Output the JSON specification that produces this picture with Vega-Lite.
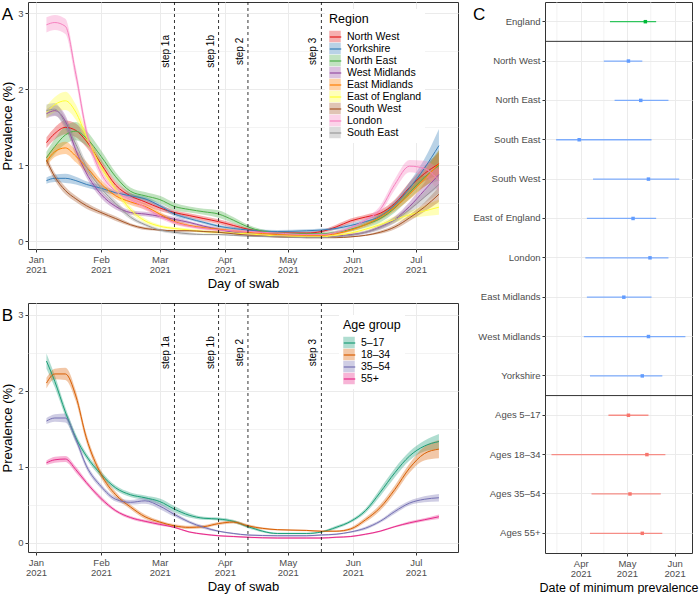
{
"$schema": "https://vega.github.io/schema/vega-lite/v6.json",
"background": "white",
"padding": {"left": 1, "top": 1, "right": 0, "bottom": 0},
"config": {
  "font": "Liberation Sans",
  "view": {"stroke": "#333333", "strokeWidth": 1},
  "axis": {"domain": false, "labelColor": "#4D4D4D", "labelFontSize": 9.5, "titleFontSize": 13, "titleFontWeight": "normal", "titleColor": "black", "tickColor": "#333333", "tickSize": 3, "gridColor": "#EBEBEB", "labelPadding": 2, "titlePadding": 3, "labelOverlap": false, "labelFlush": false},
  "legend": {"titleFontSize": 12.5, "titleFontWeight": "normal", "titleColor": "black", "labelFontSize": 10.5, "labelColor": "black", "padding": 4, "rowPadding": 0, "titlePadding": 5, "labelOffset": 5},
  "title": {"fontSize": 17, "fontWeight": "normal", "color": "black", "anchor": "start", "frame": "bounds", "baseline": "alphabetic"}
},
"datasets": {
"steps": [
{"step":"step 1a","d":"2021-03-08"},{"step":"step 1b","d":"2021-03-29"},{"step":"step 2","d":"2021-04-12"},{"step":"step 3","d":"2021-05-17"}
],
"seps": [{"cat":"England"},{"cat":"Yorkshire"}],
"cminor": [{"d":"2021-03-16T12:00:00Z"},{"d":"2021-04-16T00:00:00Z"},{"d":"2021-05-16T12:00:00Z"}],
"reg": [
{"g":"North West","d":"2021-01-06","v":1.30,"lo":1.23,"hi":1.37},
{"g":"North West","d":"2021-01-10","v":1.42,"lo":1.34,"hi":1.50},
{"g":"North West","d":"2021-01-15","v":1.50,"lo":1.41,"hi":1.59},
{"g":"North West","d":"2021-01-20","v":1.46,"lo":1.37,"hi":1.55},
{"g":"North West","d":"2021-01-25","v":1.32,"lo":1.24,"hi":1.40},
{"g":"North West","d":"2021-02-01","v":1.02,"lo":0.96,"hi":1.08},
{"g":"North West","d":"2021-02-08","v":0.74,"lo":0.69,"hi":0.79},
{"g":"North West","d":"2021-02-15","v":0.60,"lo":0.56,"hi":0.64},
{"g":"North West","d":"2021-02-22","v":0.52,"lo":0.48,"hi":0.56},
{"g":"North West","d":"2021-03-01","v":0.44,"lo":0.40,"hi":0.48},
{"g":"North West","d":"2021-03-08","v":0.38,"lo":0.35,"hi":0.41},
{"g":"North West","d":"2021-03-15","v":0.34,"lo":0.31,"hi":0.37},
{"g":"North West","d":"2021-03-22","v":0.30,"lo":0.27,"hi":0.33},
{"g":"North West","d":"2021-03-29","v":0.26,"lo":0.23,"hi":0.29},
{"g":"North West","d":"2021-04-05","v":0.21,"lo":0.18,"hi":0.24},
{"g":"North West","d":"2021-04-12","v":0.16,"lo":0.14,"hi":0.18},
{"g":"North West","d":"2021-04-26","v":0.11,"lo":0.09,"hi":0.13},
{"g":"North West","d":"2021-05-10","v":0.11,"lo":0.09,"hi":0.13},
{"g":"North West","d":"2021-05-17","v":0.13,"lo":0.11,"hi":0.15},
{"g":"North West","d":"2021-05-24","v":0.19,"lo":0.16,"hi":0.22},
{"g":"North West","d":"2021-05-31","v":0.27,"lo":0.24,"hi":0.30},
{"g":"North West","d":"2021-06-07","v":0.32,"lo":0.29,"hi":0.35},
{"g":"North West","d":"2021-06-14","v":0.37,"lo":0.33,"hi":0.41},
{"g":"North West","d":"2021-06-21","v":0.50,"lo":0.45,"hi":0.55},
{"g":"North West","d":"2021-06-28","v":0.71,"lo":0.64,"hi":0.78},
{"g":"North West","d":"2021-07-05","v":0.89,"lo":0.79,"hi":0.99},
{"g":"North West","d":"2021-07-12","v":1.02,"lo":0.87,"hi":1.17},
{"g":"Yorkshire","d":"2021-01-06","v":0.80,"lo":0.76,"hi":0.84},
{"g":"Yorkshire","d":"2021-01-10","v":0.83,"lo":0.78,"hi":0.88},
{"g":"Yorkshire","d":"2021-01-15","v":0.83,"lo":0.77,"hi":0.89},
{"g":"Yorkshire","d":"2021-01-20","v":0.80,"lo":0.75,"hi":0.85},
{"g":"Yorkshire","d":"2021-01-25","v":0.75,"lo":0.71,"hi":0.79},
{"g":"Yorkshire","d":"2021-02-01","v":0.70,"lo":0.66,"hi":0.74},
{"g":"Yorkshire","d":"2021-02-08","v":0.64,"lo":0.61,"hi":0.67},
{"g":"Yorkshire","d":"2021-02-15","v":0.60,"lo":0.57,"hi":0.63},
{"g":"Yorkshire","d":"2021-02-22","v":0.56,"lo":0.53,"hi":0.59},
{"g":"Yorkshire","d":"2021-03-01","v":0.47,"lo":0.44,"hi":0.50},
{"g":"Yorkshire","d":"2021-03-08","v":0.36,"lo":0.33,"hi":0.39},
{"g":"Yorkshire","d":"2021-03-15","v":0.30,"lo":0.28,"hi":0.32},
{"g":"Yorkshire","d":"2021-03-22","v":0.25,"lo":0.23,"hi":0.27},
{"g":"Yorkshire","d":"2021-03-29","v":0.20,"lo":0.18,"hi":0.22},
{"g":"Yorkshire","d":"2021-04-05","v":0.17,"lo":0.15,"hi":0.19},
{"g":"Yorkshire","d":"2021-04-12","v":0.15,"lo":0.13,"hi":0.17},
{"g":"Yorkshire","d":"2021-04-26","v":0.13,"lo":0.11,"hi":0.15},
{"g":"Yorkshire","d":"2021-05-10","v":0.14,"lo":0.12,"hi":0.16},
{"g":"Yorkshire","d":"2021-05-17","v":0.15,"lo":0.13,"hi":0.17},
{"g":"Yorkshire","d":"2021-05-24","v":0.17,"lo":0.15,"hi":0.19},
{"g":"Yorkshire","d":"2021-05-31","v":0.21,"lo":0.18,"hi":0.24},
{"g":"Yorkshire","d":"2021-06-07","v":0.26,"lo":0.23,"hi":0.29},
{"g":"Yorkshire","d":"2021-06-14","v":0.33,"lo":0.29,"hi":0.37},
{"g":"Yorkshire","d":"2021-06-21","v":0.48,"lo":0.43,"hi":0.53},
{"g":"Yorkshire","d":"2021-06-28","v":0.70,"lo":0.62,"hi":0.78},
{"g":"Yorkshire","d":"2021-07-05","v":0.96,"lo":0.84,"hi":1.08},
{"g":"Yorkshire","d":"2021-07-12","v":1.26,"lo":1.04,"hi":1.48},
{"g":"North East","d":"2021-01-06","v":1.10,"lo":1.02,"hi":1.18},
{"g":"North East","d":"2021-01-10","v":1.25,"lo":1.15,"hi":1.35},
{"g":"North East","d":"2021-01-15","v":1.40,"lo":1.28,"hi":1.52},
{"g":"North East","d":"2021-01-20","v":1.45,"lo":1.33,"hi":1.57},
{"g":"North East","d":"2021-01-25","v":1.36,"lo":1.26,"hi":1.46},
{"g":"North East","d":"2021-02-01","v":1.12,"lo":1.04,"hi":1.20},
{"g":"North East","d":"2021-02-08","v":0.85,"lo":0.79,"hi":0.91},
{"g":"North East","d":"2021-02-15","v":0.66,"lo":0.61,"hi":0.71},
{"g":"North East","d":"2021-02-22","v":0.60,"lo":0.55,"hi":0.65},
{"g":"North East","d":"2021-03-01","v":0.55,"lo":0.50,"hi":0.60},
{"g":"North East","d":"2021-03-08","v":0.46,"lo":0.41,"hi":0.51},
{"g":"North East","d":"2021-03-15","v":0.42,"lo":0.38,"hi":0.46},
{"g":"North East","d":"2021-03-22","v":0.39,"lo":0.35,"hi":0.43},
{"g":"North East","d":"2021-03-29","v":0.36,"lo":0.31,"hi":0.41},
{"g":"North East","d":"2021-04-05","v":0.28,"lo":0.24,"hi":0.32},
{"g":"North East","d":"2021-04-12","v":0.19,"lo":0.16,"hi":0.22},
{"g":"North East","d":"2021-04-26","v":0.11,"lo":0.09,"hi":0.13},
{"g":"North East","d":"2021-05-10","v":0.10,"lo":0.08,"hi":0.12},
{"g":"North East","d":"2021-05-17","v":0.10,"lo":0.08,"hi":0.12},
{"g":"North East","d":"2021-05-24","v":0.12,"lo":0.10,"hi":0.14},
{"g":"North East","d":"2021-05-31","v":0.16,"lo":0.13,"hi":0.19},
{"g":"North East","d":"2021-06-07","v":0.22,"lo":0.18,"hi":0.26},
{"g":"North East","d":"2021-06-14","v":0.30,"lo":0.25,"hi":0.35},
{"g":"North East","d":"2021-06-21","v":0.44,"lo":0.38,"hi":0.50},
{"g":"North East","d":"2021-06-28","v":0.64,"lo":0.56,"hi":0.72},
{"g":"North East","d":"2021-07-05","v":0.84,"lo":0.72,"hi":0.96},
{"g":"North East","d":"2021-07-12","v":1.00,"lo":0.80,"hi":1.20},
{"g":"West Midlands","d":"2021-01-06","v":1.68,"lo":1.62,"hi":1.74},
{"g":"West Midlands","d":"2021-01-10","v":1.72,"lo":1.65,"hi":1.79},
{"g":"West Midlands","d":"2021-01-15","v":1.58,"lo":1.50,"hi":1.66},
{"g":"West Midlands","d":"2021-01-20","v":1.20,"lo":1.13,"hi":1.27},
{"g":"West Midlands","d":"2021-01-25","v":0.90,"lo":0.84,"hi":0.96},
{"g":"West Midlands","d":"2021-02-01","v":0.62,"lo":0.57,"hi":0.67},
{"g":"West Midlands","d":"2021-02-08","v":0.46,"lo":0.42,"hi":0.50},
{"g":"West Midlands","d":"2021-02-15","v":0.38,"lo":0.35,"hi":0.41},
{"g":"West Midlands","d":"2021-02-22","v":0.36,"lo":0.33,"hi":0.39},
{"g":"West Midlands","d":"2021-03-01","v":0.33,"lo":0.30,"hi":0.36},
{"g":"West Midlands","d":"2021-03-08","v":0.29,"lo":0.26,"hi":0.32},
{"g":"West Midlands","d":"2021-03-15","v":0.25,"lo":0.23,"hi":0.27},
{"g":"West Midlands","d":"2021-03-22","v":0.20,"lo":0.18,"hi":0.22},
{"g":"West Midlands","d":"2021-03-29","v":0.16,"lo":0.14,"hi":0.18},
{"g":"West Midlands","d":"2021-04-05","v":0.12,"lo":0.10,"hi":0.14},
{"g":"West Midlands","d":"2021-04-12","v":0.10,"lo":0.08,"hi":0.12},
{"g":"West Midlands","d":"2021-04-26","v":0.07,"lo":0.06,"hi":0.08},
{"g":"West Midlands","d":"2021-05-10","v":0.06,"lo":0.05,"hi":0.07},
{"g":"West Midlands","d":"2021-05-17","v":0.06,"lo":0.05,"hi":0.07},
{"g":"West Midlands","d":"2021-05-24","v":0.07,"lo":0.06,"hi":0.08},
{"g":"West Midlands","d":"2021-05-31","v":0.09,"lo":0.07,"hi":0.11},
{"g":"West Midlands","d":"2021-06-07","v":0.12,"lo":0.10,"hi":0.14},
{"g":"West Midlands","d":"2021-06-14","v":0.19,"lo":0.16,"hi":0.22},
{"g":"West Midlands","d":"2021-06-21","v":0.29,"lo":0.25,"hi":0.33},
{"g":"West Midlands","d":"2021-06-28","v":0.46,"lo":0.40,"hi":0.52},
{"g":"West Midlands","d":"2021-07-05","v":0.67,"lo":0.57,"hi":0.77},
{"g":"West Midlands","d":"2021-07-12","v":0.88,"lo":0.72,"hi":1.04},
{"g":"East Midlands","d":"2021-01-06","v":1.05,"lo":0.98,"hi":1.12},
{"g":"East Midlands","d":"2021-01-10","v":1.18,"lo":1.11,"hi":1.25},
{"g":"East Midlands","d":"2021-01-15","v":1.23,"lo":1.15,"hi":1.31},
{"g":"East Midlands","d":"2021-01-20","v":1.12,"lo":1.04,"hi":1.20},
{"g":"East Midlands","d":"2021-01-25","v":0.98,"lo":0.91,"hi":1.05},
{"g":"East Midlands","d":"2021-02-01","v":0.76,"lo":0.71,"hi":0.81},
{"g":"East Midlands","d":"2021-02-08","v":0.60,"lo":0.56,"hi":0.64},
{"g":"East Midlands","d":"2021-02-15","v":0.52,"lo":0.48,"hi":0.56},
{"g":"East Midlands","d":"2021-02-22","v":0.46,"lo":0.42,"hi":0.50},
{"g":"East Midlands","d":"2021-03-01","v":0.36,"lo":0.33,"hi":0.39},
{"g":"East Midlands","d":"2021-03-08","v":0.26,"lo":0.23,"hi":0.29},
{"g":"East Midlands","d":"2021-03-15","v":0.21,"lo":0.19,"hi":0.23},
{"g":"East Midlands","d":"2021-03-22","v":0.18,"lo":0.16,"hi":0.20},
{"g":"East Midlands","d":"2021-03-29","v":0.16,"lo":0.14,"hi":0.18},
{"g":"East Midlands","d":"2021-04-05","v":0.14,"lo":0.12,"hi":0.16},
{"g":"East Midlands","d":"2021-04-12","v":0.12,"lo":0.10,"hi":0.14},
{"g":"East Midlands","d":"2021-04-26","v":0.09,"lo":0.08,"hi":0.10},
{"g":"East Midlands","d":"2021-05-10","v":0.08,"lo":0.07,"hi":0.09},
{"g":"East Midlands","d":"2021-05-17","v":0.08,"lo":0.07,"hi":0.09},
{"g":"East Midlands","d":"2021-05-24","v":0.10,"lo":0.08,"hi":0.12},
{"g":"East Midlands","d":"2021-05-31","v":0.15,"lo":0.13,"hi":0.17},
{"g":"East Midlands","d":"2021-06-07","v":0.22,"lo":0.19,"hi":0.25},
{"g":"East Midlands","d":"2021-06-14","v":0.32,"lo":0.28,"hi":0.36},
{"g":"East Midlands","d":"2021-06-21","v":0.45,"lo":0.40,"hi":0.50},
{"g":"East Midlands","d":"2021-06-28","v":0.62,"lo":0.55,"hi":0.69},
{"g":"East Midlands","d":"2021-07-05","v":0.82,"lo":0.72,"hi":0.92},
{"g":"East Midlands","d":"2021-07-12","v":1.02,"lo":0.84,"hi":1.20},
{"g":"East of England","d":"2021-01-06","v":1.70,"lo":1.62,"hi":1.78},
{"g":"East of England","d":"2021-01-10","v":1.80,"lo":1.70,"hi":1.90},
{"g":"East of England","d":"2021-01-15","v":1.85,"lo":1.73,"hi":1.97},
{"g":"East of England","d":"2021-01-20","v":1.70,"lo":1.60,"hi":1.80},
{"g":"East of England","d":"2021-01-25","v":1.38,"lo":1.30,"hi":1.46},
{"g":"East of England","d":"2021-02-01","v":0.98,"lo":0.92,"hi":1.04},
{"g":"East of England","d":"2021-02-08","v":0.68,"lo":0.63,"hi":0.73},
{"g":"East of England","d":"2021-02-15","v":0.42,"lo":0.38,"hi":0.46},
{"g":"East of England","d":"2021-02-22","v":0.27,"lo":0.24,"hi":0.30},
{"g":"East of England","d":"2021-03-01","v":0.20,"lo":0.18,"hi":0.22},
{"g":"East of England","d":"2021-03-08","v":0.17,"lo":0.15,"hi":0.19},
{"g":"East of England","d":"2021-03-15","v":0.15,"lo":0.13,"hi":0.17},
{"g":"East of England","d":"2021-03-22","v":0.13,"lo":0.11,"hi":0.15},
{"g":"East of England","d":"2021-03-29","v":0.12,"lo":0.10,"hi":0.14},
{"g":"East of England","d":"2021-04-05","v":0.11,"lo":0.10,"hi":0.12},
{"g":"East of England","d":"2021-04-12","v":0.10,"lo":0.09,"hi":0.11},
{"g":"East of England","d":"2021-04-26","v":0.07,"lo":0.06,"hi":0.08},
{"g":"East of England","d":"2021-05-10","v":0.06,"lo":0.05,"hi":0.07},
{"g":"East of England","d":"2021-05-17","v":0.06,"lo":0.05,"hi":0.07},
{"g":"East of England","d":"2021-05-24","v":0.08,"lo":0.07,"hi":0.09},
{"g":"East of England","d":"2021-05-31","v":0.11,"lo":0.09,"hi":0.13},
{"g":"East of England","d":"2021-06-07","v":0.16,"lo":0.14,"hi":0.18},
{"g":"East of England","d":"2021-06-14","v":0.22,"lo":0.19,"hi":0.25},
{"g":"East of England","d":"2021-06-21","v":0.29,"lo":0.25,"hi":0.33},
{"g":"East of England","d":"2021-06-28","v":0.35,"lo":0.30,"hi":0.40},
{"g":"East of England","d":"2021-07-05","v":0.40,"lo":0.33,"hi":0.47},
{"g":"East of England","d":"2021-07-12","v":0.45,"lo":0.35,"hi":0.55},
{"g":"South West","d":"2021-01-06","v":1.07,"lo":1.02,"hi":1.12},
{"g":"South West","d":"2021-01-10","v":0.85,"lo":0.80,"hi":0.90},
{"g":"South West","d":"2021-01-15","v":0.67,"lo":0.62,"hi":0.72},
{"g":"South West","d":"2021-01-20","v":0.56,"lo":0.52,"hi":0.60},
{"g":"South West","d":"2021-01-25","v":0.47,"lo":0.43,"hi":0.51},
{"g":"South West","d":"2021-02-01","v":0.38,"lo":0.35,"hi":0.41},
{"g":"South West","d":"2021-02-08","v":0.30,"lo":0.27,"hi":0.33},
{"g":"South West","d":"2021-02-15","v":0.22,"lo":0.20,"hi":0.24},
{"g":"South West","d":"2021-02-22","v":0.17,"lo":0.15,"hi":0.19},
{"g":"South West","d":"2021-03-01","v":0.15,"lo":0.14,"hi":0.16},
{"g":"South West","d":"2021-03-08","v":0.14,"lo":0.13,"hi":0.15},
{"g":"South West","d":"2021-03-15","v":0.14,"lo":0.13,"hi":0.15},
{"g":"South West","d":"2021-03-22","v":0.13,"lo":0.12,"hi":0.14},
{"g":"South West","d":"2021-03-29","v":0.12,"lo":0.11,"hi":0.13},
{"g":"South West","d":"2021-04-05","v":0.10,"lo":0.09,"hi":0.11},
{"g":"South West","d":"2021-04-12","v":0.08,"lo":0.07,"hi":0.09},
{"g":"South West","d":"2021-04-26","v":0.06,"lo":0.05,"hi":0.07},
{"g":"South West","d":"2021-05-10","v":0.05,"lo":0.04,"hi":0.06},
{"g":"South West","d":"2021-05-17","v":0.05,"lo":0.04,"hi":0.06},
{"g":"South West","d":"2021-05-24","v":0.05,"lo":0.04,"hi":0.06},
{"g":"South West","d":"2021-05-31","v":0.06,"lo":0.05,"hi":0.07},
{"g":"South West","d":"2021-06-07","v":0.08,"lo":0.07,"hi":0.09},
{"g":"South West","d":"2021-06-14","v":0.12,"lo":0.10,"hi":0.14},
{"g":"South West","d":"2021-06-21","v":0.19,"lo":0.16,"hi":0.22},
{"g":"South West","d":"2021-06-28","v":0.31,"lo":0.27,"hi":0.35},
{"g":"South West","d":"2021-07-05","v":0.45,"lo":0.39,"hi":0.51},
{"g":"South West","d":"2021-07-12","v":0.62,"lo":0.52,"hi":0.72},
{"g":"London","d":"2021-01-06","v":2.85,"lo":2.75,"hi":2.95},
{"g":"London","d":"2021-01-10","v":2.88,"lo":2.78,"hi":2.98},
{"g":"London","d":"2021-01-15","v":2.83,"lo":2.73,"hi":2.93},
{"g":"London","d":"2021-01-20","v":2.20,"lo":2.11,"hi":2.29},
{"g":"London","d":"2021-01-25","v":1.45,"lo":1.37,"hi":1.53},
{"g":"London","d":"2021-02-01","v":0.90,"lo":0.84,"hi":0.96},
{"g":"London","d":"2021-02-08","v":0.66,"lo":0.61,"hi":0.71},
{"g":"London","d":"2021-02-15","v":0.55,"lo":0.51,"hi":0.59},
{"g":"London","d":"2021-02-22","v":0.45,"lo":0.41,"hi":0.49},
{"g":"London","d":"2021-03-01","v":0.33,"lo":0.30,"hi":0.36},
{"g":"London","d":"2021-03-08","v":0.25,"lo":0.22,"hi":0.28},
{"g":"London","d":"2021-03-15","v":0.20,"lo":0.18,"hi":0.22},
{"g":"London","d":"2021-03-22","v":0.17,"lo":0.15,"hi":0.19},
{"g":"London","d":"2021-03-29","v":0.15,"lo":0.13,"hi":0.17},
{"g":"London","d":"2021-04-05","v":0.14,"lo":0.12,"hi":0.16},
{"g":"London","d":"2021-04-12","v":0.13,"lo":0.11,"hi":0.15},
{"g":"London","d":"2021-04-26","v":0.11,"lo":0.10,"hi":0.12},
{"g":"London","d":"2021-05-10","v":0.09,"lo":0.08,"hi":0.10},
{"g":"London","d":"2021-05-17","v":0.09,"lo":0.08,"hi":0.10},
{"g":"London","d":"2021-05-24","v":0.12,"lo":0.10,"hi":0.14},
{"g":"London","d":"2021-05-31","v":0.18,"lo":0.16,"hi":0.20},
{"g":"London","d":"2021-06-07","v":0.28,"lo":0.25,"hi":0.31},
{"g":"London","d":"2021-06-14","v":0.42,"lo":0.37,"hi":0.47},
{"g":"London","d":"2021-06-21","v":0.75,"lo":0.68,"hi":0.82},
{"g":"London","d":"2021-06-28","v":0.99,"lo":0.91,"hi":1.07},
{"g":"London","d":"2021-07-05","v":0.96,"lo":0.86,"hi":1.06},
{"g":"London","d":"2021-07-12","v":0.80,"lo":0.65,"hi":0.95},
{"g":"South East","d":"2021-01-06","v":1.72,"lo":1.64,"hi":1.80},
{"g":"South East","d":"2021-01-10","v":1.74,"lo":1.66,"hi":1.82},
{"g":"South East","d":"2021-01-15","v":1.55,"lo":1.47,"hi":1.63},
{"g":"South East","d":"2021-01-20","v":1.28,"lo":1.21,"hi":1.35},
{"g":"South East","d":"2021-01-25","v":0.98,"lo":0.92,"hi":1.04},
{"g":"South East","d":"2021-02-01","v":0.70,"lo":0.65,"hi":0.75},
{"g":"South East","d":"2021-02-08","v":0.50,"lo":0.46,"hi":0.54},
{"g":"South East","d":"2021-02-15","v":0.32,"lo":0.29,"hi":0.35},
{"g":"South East","d":"2021-02-22","v":0.22,"lo":0.20,"hi":0.24},
{"g":"South East","d":"2021-03-01","v":0.15,"lo":0.13,"hi":0.17},
{"g":"South East","d":"2021-03-08","v":0.12,"lo":0.10,"hi":0.14},
{"g":"South East","d":"2021-03-15","v":0.10,"lo":0.08,"hi":0.12},
{"g":"South East","d":"2021-03-22","v":0.09,"lo":0.08,"hi":0.10},
{"g":"South East","d":"2021-03-29","v":0.09,"lo":0.08,"hi":0.10},
{"g":"South East","d":"2021-04-05","v":0.08,"lo":0.07,"hi":0.09},
{"g":"South East","d":"2021-04-12","v":0.07,"lo":0.06,"hi":0.08},
{"g":"South East","d":"2021-04-26","v":0.06,"lo":0.05,"hi":0.07},
{"g":"South East","d":"2021-05-10","v":0.05,"lo":0.04,"hi":0.06},
{"g":"South East","d":"2021-05-17","v":0.05,"lo":0.04,"hi":0.06},
{"g":"South East","d":"2021-05-24","v":0.06,"lo":0.05,"hi":0.07},
{"g":"South East","d":"2021-05-31","v":0.08,"lo":0.07,"hi":0.09},
{"g":"South East","d":"2021-06-07","v":0.12,"lo":0.10,"hi":0.14},
{"g":"South East","d":"2021-06-14","v":0.18,"lo":0.15,"hi":0.21},
{"g":"South East","d":"2021-06-21","v":0.28,"lo":0.24,"hi":0.32},
{"g":"South East","d":"2021-06-28","v":0.42,"lo":0.37,"hi":0.47},
{"g":"South East","d":"2021-07-05","v":0.58,"lo":0.50,"hi":0.66},
{"g":"South East","d":"2021-07-12","v":0.75,"lo":0.63,"hi":0.87}
],
"age": [
{"g":"5–17","d":"2021-01-06","v":2.39,"lo":2.29,"hi":2.49},
{"g":"5–17","d":"2021-01-10","v":2.12,"lo":2.04,"hi":2.20},
{"g":"5–17","d":"2021-01-15","v":1.72,"lo":1.66,"hi":1.78},
{"g":"5–17","d":"2021-01-20","v":1.38,"lo":1.33,"hi":1.43},
{"g":"5–17","d":"2021-01-25","v":1.14,"lo":1.10,"hi":1.18},
{"g":"5–17","d":"2021-02-01","v":0.90,"lo":0.86,"hi":0.94},
{"g":"5–17","d":"2021-02-08","v":0.72,"lo":0.69,"hi":0.75},
{"g":"5–17","d":"2021-02-15","v":0.63,"lo":0.60,"hi":0.66},
{"g":"5–17","d":"2021-02-22","v":0.59,"lo":0.56,"hi":0.62},
{"g":"5–17","d":"2021-03-01","v":0.54,"lo":0.50,"hi":0.58},
{"g":"5–17","d":"2021-03-08","v":0.44,"lo":0.40,"hi":0.48},
{"g":"5–17","d":"2021-03-15","v":0.36,"lo":0.33,"hi":0.39},
{"g":"5–17","d":"2021-03-22","v":0.32,"lo":0.30,"hi":0.34},
{"g":"5–17","d":"2021-03-29","v":0.31,"lo":0.29,"hi":0.33},
{"g":"5–17","d":"2021-04-05","v":0.28,"lo":0.26,"hi":0.30},
{"g":"5–17","d":"2021-04-12","v":0.21,"lo":0.19,"hi":0.23},
{"g":"5–17","d":"2021-04-26","v":0.12,"lo":0.11,"hi":0.13},
{"g":"5–17","d":"2021-05-10","v":0.12,"lo":0.11,"hi":0.13},
{"g":"5–17","d":"2021-05-17","v":0.14,"lo":0.13,"hi":0.15},
{"g":"5–17","d":"2021-05-24","v":0.20,"lo":0.18,"hi":0.22},
{"g":"5–17","d":"2021-05-31","v":0.28,"lo":0.26,"hi":0.30},
{"g":"5–17","d":"2021-06-07","v":0.42,"lo":0.39,"hi":0.45},
{"g":"5–17","d":"2021-06-14","v":0.66,"lo":0.61,"hi":0.71},
{"g":"5–17","d":"2021-06-21","v":0.92,"lo":0.86,"hi":0.98},
{"g":"5–17","d":"2021-06-28","v":1.14,"lo":1.08,"hi":1.20},
{"g":"5–17","d":"2021-07-05","v":1.27,"lo":1.20,"hi":1.34},
{"g":"5–17","d":"2021-07-12","v":1.33,"lo":1.23,"hi":1.43},
{"g":"18–34","d":"2021-01-06","v":2.10,"lo":2.03,"hi":2.17},
{"g":"18–34","d":"2021-01-10","v":2.22,"lo":2.15,"hi":2.29},
{"g":"18–34","d":"2021-01-15","v":2.22,"lo":2.14,"hi":2.30},
{"g":"18–34","d":"2021-01-20","v":1.93,"lo":1.86,"hi":2.00},
{"g":"18–34","d":"2021-01-25","v":1.38,"lo":1.32,"hi":1.44},
{"g":"18–34","d":"2021-02-01","v":0.90,"lo":0.85,"hi":0.95},
{"g":"18–34","d":"2021-02-08","v":0.63,"lo":0.59,"hi":0.67},
{"g":"18–34","d":"2021-02-15","v":0.47,"lo":0.44,"hi":0.50},
{"g":"18–34","d":"2021-02-22","v":0.34,"lo":0.31,"hi":0.37},
{"g":"18–34","d":"2021-03-01","v":0.27,"lo":0.25,"hi":0.29},
{"g":"18–34","d":"2021-03-08","v":0.22,"lo":0.20,"hi":0.24},
{"g":"18–34","d":"2021-03-15","v":0.20,"lo":0.18,"hi":0.22},
{"g":"18–34","d":"2021-03-22","v":0.21,"lo":0.19,"hi":0.23},
{"g":"18–34","d":"2021-03-29","v":0.25,"lo":0.23,"hi":0.27},
{"g":"18–34","d":"2021-04-05","v":0.27,"lo":0.25,"hi":0.29},
{"g":"18–34","d":"2021-04-12","v":0.22,"lo":0.20,"hi":0.24},
{"g":"18–34","d":"2021-04-26","v":0.17,"lo":0.16,"hi":0.18},
{"g":"18–34","d":"2021-05-10","v":0.16,"lo":0.15,"hi":0.17},
{"g":"18–34","d":"2021-05-17","v":0.15,"lo":0.14,"hi":0.16},
{"g":"18–34","d":"2021-05-24","v":0.15,"lo":0.14,"hi":0.16},
{"g":"18–34","d":"2021-05-31","v":0.18,"lo":0.16,"hi":0.20},
{"g":"18–34","d":"2021-06-07","v":0.30,"lo":0.27,"hi":0.33},
{"g":"18–34","d":"2021-06-14","v":0.46,"lo":0.42,"hi":0.50},
{"g":"18–34","d":"2021-06-21","v":0.70,"lo":0.65,"hi":0.75},
{"g":"18–34","d":"2021-06-28","v":0.98,"lo":0.92,"hi":1.04},
{"g":"18–34","d":"2021-07-05","v":1.17,"lo":1.08,"hi":1.26},
{"g":"18–34","d":"2021-07-12","v":1.23,"lo":1.11,"hi":1.35},
{"g":"35–54","d":"2021-01-06","v":1.60,"lo":1.56,"hi":1.64},
{"g":"35–54","d":"2021-01-10","v":1.64,"lo":1.59,"hi":1.69},
{"g":"35–54","d":"2021-01-15","v":1.64,"lo":1.58,"hi":1.70},
{"g":"35–54","d":"2021-01-20","v":1.36,"lo":1.31,"hi":1.41},
{"g":"35–54","d":"2021-01-25","v":1.01,"lo":0.97,"hi":1.05},
{"g":"35–54","d":"2021-02-01","v":0.74,"lo":0.71,"hi":0.77},
{"g":"35–54","d":"2021-02-08","v":0.57,"lo":0.54,"hi":0.60},
{"g":"35–54","d":"2021-02-15","v":0.53,"lo":0.50,"hi":0.56},
{"g":"35–54","d":"2021-02-22","v":0.55,"lo":0.51,"hi":0.59},
{"g":"35–54","d":"2021-03-01","v":0.48,"lo":0.44,"hi":0.52},
{"g":"35–54","d":"2021-03-08","v":0.37,"lo":0.34,"hi":0.40},
{"g":"35–54","d":"2021-03-15","v":0.27,"lo":0.25,"hi":0.29},
{"g":"35–54","d":"2021-03-22","v":0.20,"lo":0.18,"hi":0.22},
{"g":"35–54","d":"2021-03-29","v":0.15,"lo":0.14,"hi":0.16},
{"g":"35–54","d":"2021-04-05","v":0.12,"lo":0.11,"hi":0.13},
{"g":"35–54","d":"2021-04-12","v":0.10,"lo":0.09,"hi":0.11},
{"g":"35–54","d":"2021-04-26","v":0.09,"lo":0.08,"hi":0.10},
{"g":"35–54","d":"2021-05-10","v":0.09,"lo":0.08,"hi":0.10},
{"g":"35–54","d":"2021-05-17","v":0.10,"lo":0.09,"hi":0.11},
{"g":"35–54","d":"2021-05-24","v":0.11,"lo":0.10,"hi":0.12},
{"g":"35–54","d":"2021-05-31","v":0.14,"lo":0.13,"hi":0.15},
{"g":"35–54","d":"2021-06-07","v":0.19,"lo":0.17,"hi":0.21},
{"g":"35–54","d":"2021-06-14","v":0.28,"lo":0.26,"hi":0.30},
{"g":"35–54","d":"2021-06-21","v":0.41,"lo":0.38,"hi":0.44},
{"g":"35–54","d":"2021-06-28","v":0.52,"lo":0.49,"hi":0.55},
{"g":"35–54","d":"2021-07-05","v":0.57,"lo":0.53,"hi":0.61},
{"g":"35–54","d":"2021-07-12","v":0.59,"lo":0.54,"hi":0.64},
{"g":"55+","d":"2021-01-06","v":1.05,"lo":1.02,"hi":1.08},
{"g":"55+","d":"2021-01-10","v":1.09,"lo":1.05,"hi":1.13},
{"g":"55+","d":"2021-01-15","v":1.10,"lo":1.06,"hi":1.14},
{"g":"55+","d":"2021-01-20","v":0.96,"lo":0.92,"hi":1.00},
{"g":"55+","d":"2021-01-25","v":0.79,"lo":0.76,"hi":0.82},
{"g":"55+","d":"2021-02-01","v":0.58,"lo":0.55,"hi":0.61},
{"g":"55+","d":"2021-02-08","v":0.42,"lo":0.40,"hi":0.44},
{"g":"55+","d":"2021-02-15","v":0.33,"lo":0.31,"hi":0.35},
{"g":"55+","d":"2021-02-22","v":0.28,"lo":0.26,"hi":0.30},
{"g":"55+","d":"2021-03-01","v":0.24,"lo":0.22,"hi":0.26},
{"g":"55+","d":"2021-03-08","v":0.20,"lo":0.19,"hi":0.21},
{"g":"55+","d":"2021-03-15","v":0.14,"lo":0.13,"hi":0.15},
{"g":"55+","d":"2021-03-22","v":0.11,"lo":0.10,"hi":0.12},
{"g":"55+","d":"2021-03-29","v":0.09,"lo":0.08,"hi":0.10},
{"g":"55+","d":"2021-04-05","v":0.08,"lo":0.07,"hi":0.09},
{"g":"55+","d":"2021-04-12","v":0.07,"lo":0.06,"hi":0.08},
{"g":"55+","d":"2021-04-26","v":0.06,"lo":0.05,"hi":0.07},
{"g":"55+","d":"2021-05-10","v":0.06,"lo":0.05,"hi":0.07},
{"g":"55+","d":"2021-05-17","v":0.06,"lo":0.05,"hi":0.07},
{"g":"55+","d":"2021-05-24","v":0.07,"lo":0.06,"hi":0.08},
{"g":"55+","d":"2021-05-31","v":0.08,"lo":0.07,"hi":0.09},
{"g":"55+","d":"2021-06-07","v":0.11,"lo":0.10,"hi":0.12},
{"g":"55+","d":"2021-06-14","v":0.15,"lo":0.14,"hi":0.16},
{"g":"55+","d":"2021-06-21","v":0.21,"lo":0.20,"hi":0.22},
{"g":"55+","d":"2021-06-28","v":0.26,"lo":0.24,"hi":0.28},
{"g":"55+","d":"2021-07-05","v":0.30,"lo":0.28,"hi":0.32},
{"g":"55+","d":"2021-07-12","v":0.34,"lo":0.31,"hi":0.37}
],
"minp": [
{"cat":"England","grp":"England","lo":"2021-04-20","pt":"2021-05-13","hi":"2021-05-20"},
{"cat":"North West","grp":"Region","lo":"2021-04-16","pt":"2021-05-02","hi":"2021-05-11"},
{"cat":"North East","grp":"Region","lo":"2021-04-23","pt":"2021-05-10","hi":"2021-05-28"},
{"cat":"South East","grp":"Region","lo":"2021-03-16","pt":"2021-03-31","hi":"2021-05-17"},
{"cat":"South West","grp":"Region","lo":"2021-04-09","pt":"2021-05-15","hi":"2021-06-04"},
{"cat":"East of England","grp":"Region","lo":"2021-04-05","pt":"2021-05-05","hi":"2021-05-20"},
{"cat":"London","grp":"Region","lo":"2021-04-04","pt":"2021-05-16","hi":"2021-05-28"},
{"cat":"East Midlands","grp":"Region","lo":"2021-04-05","pt":"2021-04-29","hi":"2021-05-17"},
{"cat":"West Midlands","grp":"Region","lo":"2021-04-03","pt":"2021-05-15","hi":"2021-06-08"},
{"cat":"Yorkshire","grp":"Region","lo":"2021-04-07","pt":"2021-05-11","hi":"2021-05-24"},
{"cat":"Ages 5–17","grp":"Ages","lo":"2021-04-19","pt":"2021-05-02","hi":"2021-05-15"},
{"cat":"Ages 18–34","grp":"Ages","lo":"2021-03-13","pt":"2021-05-14","hi":"2021-05-26"},
{"cat":"Ages 35–54","grp":"Ages","lo":"2021-04-08","pt":"2021-05-03","hi":"2021-05-23"},
{"cat":"Ages 55+","grp":"Ages","lo":"2021-04-07","pt":"2021-05-11","hi":"2021-05-24"}
]
},
"resolve": {"scale": {"fill": "independent", "stroke": "independent", "color": "independent"}},
"spacing": 13,
"hconcat": [
{
 "spacing": 11,
 "resolve": {"scale": {"fill": "independent", "stroke": "independent"}, "legend": {"fill": "independent", "stroke": "independent"}},
 "vconcat": [
 {
  "width": 430, "height": 247,
  "title": {"text": "A", "offset": -22},
  "resolve": {"legend": {"fill": "independent", "stroke": "independent"}},
  "layer": [
   {"data": {"name": "reg"},
    "mark": {"type": "area", "interpolate": "monotone", "opacity": 0.35},
    "encoding": {
     "x": {"field": "d", "type": "temporal", "title": "Day of swab",
       "scale": {"type": "utc", "nice": false, "domain": [{"year": 2020, "month": 12, "date": 28, "hours": 5, "utc": true}, {"year": 2021, "month": 7, "date": 21, "hours": 2, "utc": true}]},
       "axis": {"values": [{"year":2021,"month":1,"date":1,"utc":true},{"year":2021,"month":1,"date":16,"hours":12,"utc":true},{"year":2021,"month":2,"date":1,"utc":true},{"year":2021,"month":2,"date":15,"utc":true},{"year":2021,"month":3,"date":1,"utc":true},{"year":2021,"month":3,"date":16,"hours":12,"utc":true},{"year":2021,"month":4,"date":1,"utc":true},{"year":2021,"month":4,"date":16,"utc":true},{"year":2021,"month":5,"date":1,"utc":true},{"year":2021,"month":5,"date":16,"hours":12,"utc":true},{"year":2021,"month":6,"date":1,"utc":true},{"year":2021,"month":6,"date":16,"utc":true},{"year":2021,"month":7,"date":1,"utc":true},{"year":2021,"month":7,"date":16,"hours":12,"utc":true}],
         "labelExpr": "utcdate(datum.value) == 1 ? [utcFormat(datum.value, '%b'), utcFormat(datum.value, '%Y')] : ''",
         "labelLineHeight": 10.5, "labelOverlap": false, "labelFlush": false,
         "tickColor": {"condition": {"test": "utcdate(datum.value) != 1", "value": "transparent"}, "value": "#333333"},
         "gridWidth": {"condition": {"test": "utcdate(datum.value) != 1", "value": 0.6}, "value": 1}}},
     "y": {"field": "lo", "type": "quantitative", "title": "Prevalence (%)",
       "scale": {"domain": [-0.1, 3.15], "nice": false, "zero": false},
       "axis": {"values": [0, 0.5, 1, 1.5, 2, 2.5, 3],
         "labelExpr": "datum.value % 1 == 0 ? format(datum.value, 'd') : ''",
         "tickColor": {"condition": {"test": "datum.value % 1 != 0", "value": "transparent"}, "value": "#333333"},
         "gridWidth": {"condition": {"test": "datum.value % 1 != 0", "value": 0.6}, "value": 1}}},
     "y2": {"field": "hi"},
     "fill": {"field": "g", "type": "nominal",
       "scale": {"domain": ["North West","Yorkshire","North East","West Midlands","East Midlands","East of England","South West","London","South East"], "range": ["#E41A1C","#377EB8","#4DAF4A","#984EA3","#FF7F00","#FFFF33","#A65628","#F781BF","#999999"]},
       "legend": {"title": "Region", "orient": "none", "legendX": 297, "legendY": 7, "symbolType": "square", "symbolSize": 132, "symbolOpacity": 0.35, "symbolStrokeWidth": 0, "labelOpacity": 0, "titleOpacity": 0, "fillColor": "white", "zindex": 1}}
    }},
   {"data": {"name": "reg"},
    "mark": {"type": "line", "interpolate": "monotone", "strokeWidth": 1},
    "encoding": {
     "x": {"field": "d", "type": "temporal"},
     "y": {"field": "v", "type": "quantitative"},
     "stroke": {"field": "g", "type": "nominal",
       "scale": {"domain": ["North West","Yorkshire","North East","West Midlands","East Midlands","East of England","South West","London","South East"], "range": ["#E41A1C","#377EB8","#4DAF4A","#984EA3","#FF7F00","#FFFF33","#A65628","#F781BF","#999999"]},
       "legend": {"title": "Region", "orient": "none", "legendX": 297, "legendY": 7, "symbolType": "stroke", "symbolSize": 132, "symbolStrokeWidth": 1.2, "zindex": 2}}
    }},
   {"data": {"name": "steps"},
    "mark": {"type": "rule", "strokeDash": [3, 3], "color": "black", "strokeWidth": 0.8},
    "encoding": {"x": {"field": "d", "type": "temporal"}}},
   {"data": {"name": "steps"},
    "mark": {"type": "text", "angle": 270, "baseline": "bottom", "align": "center", "dy": -3, "fontSize": 10, "color": "black"},
    "encoding": {"x": {"field": "d", "type": "temporal"}, "y": {"datum": 2.5, "type": "quantitative"}, "text": {"field": "step"}}}
  ]
 },
 {
  "width": 430, "height": 249,
  "title": {"text": "B", "offset": -22},
  "resolve": {"legend": {"fill": "independent", "stroke": "independent"}},
  "layer": [
   {"data": {"name": "age"},
    "mark": {"type": "area", "interpolate": "monotone", "opacity": 0.35},
    "encoding": {
     "x": {"field": "d", "type": "temporal", "title": "Day of swab",
       "scale": {"type": "utc", "nice": false, "domain": [{"year": 2020, "month": 12, "date": 28, "hours": 5, "utc": true}, {"year": 2021, "month": 7, "date": 21, "hours": 2, "utc": true}]},
       "axis": {"values": [{"year":2021,"month":1,"date":1,"utc":true},{"year":2021,"month":1,"date":16,"hours":12,"utc":true},{"year":2021,"month":2,"date":1,"utc":true},{"year":2021,"month":2,"date":15,"utc":true},{"year":2021,"month":3,"date":1,"utc":true},{"year":2021,"month":3,"date":16,"hours":12,"utc":true},{"year":2021,"month":4,"date":1,"utc":true},{"year":2021,"month":4,"date":16,"utc":true},{"year":2021,"month":5,"date":1,"utc":true},{"year":2021,"month":5,"date":16,"hours":12,"utc":true},{"year":2021,"month":6,"date":1,"utc":true},{"year":2021,"month":6,"date":16,"utc":true},{"year":2021,"month":7,"date":1,"utc":true},{"year":2021,"month":7,"date":16,"hours":12,"utc":true}],
         "labelExpr": "utcdate(datum.value) == 1 ? [utcFormat(datum.value, '%b'), utcFormat(datum.value, '%Y')] : ''",
         "labelLineHeight": 10.5, "labelOverlap": false, "labelFlush": false,
         "tickColor": {"condition": {"test": "utcdate(datum.value) != 1", "value": "transparent"}, "value": "#333333"},
         "gridWidth": {"condition": {"test": "utcdate(datum.value) != 1", "value": 0.6}, "value": 1}}},
     "y": {"field": "lo", "type": "quantitative", "title": "Prevalence (%)",
       "scale": {"domain": [-0.124, 3.154], "nice": false, "zero": false},
       "axis": {"values": [0, 0.5, 1, 1.5, 2, 2.5, 3],
         "labelExpr": "datum.value % 1 == 0 ? format(datum.value, 'd') : ''",
         "tickColor": {"condition": {"test": "datum.value % 1 != 0", "value": "transparent"}, "value": "#333333"},
         "gridWidth": {"condition": {"test": "datum.value % 1 != 0", "value": 0.6}, "value": 1}}},
     "y2": {"field": "hi"},
     "fill": {"field": "g", "type": "nominal",
       "scale": {"domain": ["5–17","18–34","35–54","55+"], "range": ["#1B9E77","#D95F02","#7570B3","#E7298A"]},
       "legend": {"title": "Age group", "orient": "none", "legendX": 311, "legendY": 12, "symbolType": "square", "symbolSize": 132, "symbolOpacity": 0.35, "symbolStrokeWidth": 0, "labelOpacity": 0, "titleOpacity": 0, "fillColor": "white", "zindex": 1}}
    }},
   {"data": {"name": "age"},
    "mark": {"type": "line", "interpolate": "monotone", "strokeWidth": 1},
    "encoding": {
     "x": {"field": "d", "type": "temporal"},
     "y": {"field": "v", "type": "quantitative"},
     "stroke": {"field": "g", "type": "nominal",
       "scale": {"domain": ["5–17","18–34","35–54","55+"], "range": ["#1B9E77","#D95F02","#7570B3","#E7298A"]},
       "legend": {"title": "Age group", "orient": "none", "legendX": 311, "legendY": 12, "symbolType": "stroke", "symbolSize": 132, "symbolStrokeWidth": 1.2, "zindex": 2}}
    }},
   {"data": {"name": "steps"},
    "mark": {"type": "rule", "strokeDash": [3, 3], "color": "black", "strokeWidth": 0.8},
    "encoding": {"x": {"field": "d", "type": "temporal"}}},
   {"data": {"name": "steps"},
    "mark": {"type": "text", "angle": 270, "baseline": "bottom", "align": "center", "dy": -3, "fontSize": 10, "color": "black"},
    "encoding": {"x": {"field": "d", "type": "temporal"}, "y": {"datum": 2.5, "type": "quantitative"}, "text": {"field": "step"}}}
  ]
 }
 ]
},
{
 "width": 147, "height": 551,
 "title": {"text": "C", "offset": -22},
 "layer": [
  {"data": {"name": "cminor"},
   "mark": {"type": "rule", "color": "#EBEBEB", "strokeWidth": 0.6},
   "encoding": {
    "x": {"field": "d", "type": "temporal", "title": "Date of minimum prevalence",
      "scale": {"type": "utc", "nice": false, "domain": [{"year": 2021, "month": 3, "date": 8, "hours": 19, "utc": true}, {"year": 2021, "month": 6, "date": 12, "hours": 7, "utc": true}]},
      "axis": {"values": [{"year":2021,"month":4,"date":1,"utc":true},{"year":2021,"month":5,"date":1,"utc":true},{"year":2021,"month":6,"date":1,"utc":true}],
        "labelExpr": "[utcFormat(datum.value, '%b'), utcFormat(datum.value, '%Y')]",
        "labelLineHeight": 10.5, "titleFontSize": 12.5, "labelOverlap": false, "labelFlush": false, "gridWidth": 1}}
   }},
  {"data": {"name": "minp"},
   "mark": {"type": "rule", "strokeWidth": 1.3, "opacity": 0.8},
   "encoding": {
    "x": {"field": "lo", "type": "temporal"},
    "x2": {"field": "hi"},
    "y": {"field": "cat", "type": "nominal", "bandPosition": 0.5,
      "scale": {"type": "band", "paddingInner": 0, "paddingOuter": 0, "domain": ["England","North West","North East","South East","South West","East of England","London","East Midlands","West Midlands","Yorkshire","Ages 5–17","Ages 18–34","Ages 35–54","Ages 55+"]},
      "axis": {"title": null, "grid": true, "bandPosition": 0.5}},
    "color": {"field": "grp", "type": "nominal", "scale": {"domain": ["Ages","England","Region"], "range": ["#F8766D","#00BA38","#619CFF"]}, "legend": null}
   }},
  {"data": {"name": "minp"},
   "mark": {"type": "point", "shape": "square", "filled": true, "size": 12, "opacity": 1},
   "encoding": {
    "x": {"field": "pt", "type": "temporal"},
    "y": {"field": "cat", "type": "nominal", "bandPosition": 0.5},
    "color": {"field": "grp", "type": "nominal", "scale": {"domain": ["Ages","England","Region"], "range": ["#F8766D","#00BA38","#619CFF"]}, "legend": null}
   }},
  {"data": {"name": "seps"},
   "mark": {"type": "rule", "color": "#333333", "strokeWidth": 1},
   "encoding": {"y": {"field": "cat", "type": "nominal", "bandPosition": 1}}}
 ]
}
]
}
